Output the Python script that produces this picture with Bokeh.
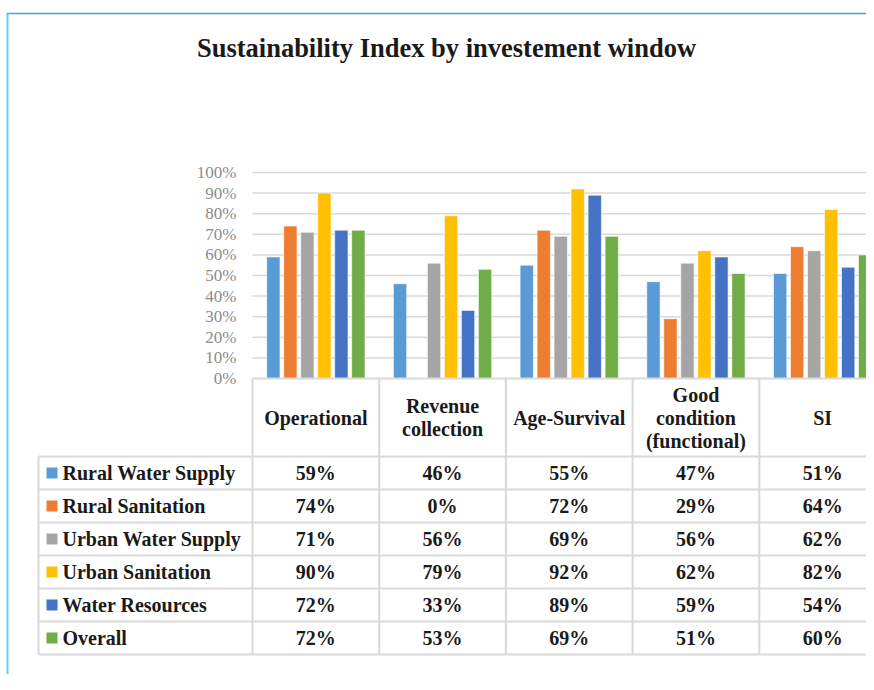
from bokeh.plotting import figure
from bokeh.models import Range1d
from bokeh.embed import file_html
from bokeh.resources import INLINE
from bokeh.core.properties import value

# ---------------- data ----------------
title_text = "Sustainability Index by investement window"
categories = ["Operational", "Revenue collection", "Age-Survival",
              "Good condition (functional)", "SI"]
header_lines = [["Operational"], ["Revenue", "collection"], ["Age-Survival"],
                ["Good", "condition", "(functional)"], ["SI"]]
series_names = ["Rural Water Supply", "Rural Sanitation", "Urban Water Supply",
                "Urban Sanitation", "Water Resources", "Overall"]
rural_water_supply = [59, 46, 55, 47, 51]
rural_sanitation = [74, 0, 72, 29, 64]
urban_water_supply = [71, 56, 69, 56, 62]
urban_sanitation = [90, 79, 92, 62, 82]
water_resources = [72, 33, 89, 59, 54]
overall = [72, 53, 69, 51, 60]
series_values = [rural_water_supply, rural_sanitation, urban_water_supply,
                 urban_sanitation, water_resources, overall]
colors = ["#5B9BD5", "#ED7D31", "#A5A5A5", "#FFC000", "#4472C4", "#70AD47"]
y_ticks = [0, 10, 20, 30, 40, 50, 60, 70, 80, 90, 100]

# ---------------- layout (picture pixels) ----------------
W, H = 866, 674
PX_L, PX_R, PX_T, PX_B = 0, W, 0, H
PLOT_L = 252.0
CAT_W = 126.7
Y0, Y100 = 378.0, 172.0
SCALE = Y0 - Y100
HEADER_B = 456.0
ROW_H = 33.0
TABLE_L = 38.0
FONT = "Liberation Serif"
GRID = "#d9d9d9"
TXT = "#1a1a1a"

x_range = Range1d((PX_L - PLOT_L) / CAT_W - 0.5, (PX_R - PLOT_L) / CAT_W - 0.5)
y_range = Range1d((Y0 - PX_B) / SCALE, (Y0 - PX_T) / SCALE)

p = figure(width=W, height=H, x_range=x_range, y_range=y_range,
           output_backend="svg", toolbar_location=None,
           x_axis_location=None, y_axis_location=None, min_border=0)
p.outline_line_color = None
p.xgrid.grid_line_color = None
p.ygrid.grid_line_color = None
p.background_fill_color = "white"
p.border_fill_color = "white"
p.extra_x_ranges = {"px": Range1d(PX_L, PX_R)}
p.extra_y_ranges = {"px": Range1d(PX_B, PX_T)}

n_cat = len(categories)
x_end = x_range.end

# outer chart border (light blue)
p.segment(x0=[6], y0=[13], x1=[PX_R], y1=[13], line_color="#3fa9dc",
          line_width=1.5, x_range_name="px", y_range_name="px")
p.segment(x0=[7], y0=[13], x1=[7], y1=[PX_B], line_color="#6cc8ef",
          line_width=2, x_range_name="px", y_range_name="px")

# title
p.text(x=[446], y=[47], text=[title_text], x_range_name="px", y_range_name="px",
       text_font=value(FONT), text_font_style="bold", text_font_size="26.5px",
       text_align="center", text_baseline="middle", text_color=TXT)

# gridlines
grid_vals = [t / 100 for t in y_ticks if t > 0]
p.segment(x0=[-0.5] * len(grid_vals), y0=grid_vals, x1=[x_end] * len(grid_vals),
          y1=grid_vals, line_color=GRID, line_width=1.5)

# y tick labels
p.text(x=[236] * len(y_ticks), y=[t / 100 for t in y_ticks],
       text=[f"{t}%" for t in y_ticks], x_range_name="px",
       text_font=value(FONT), text_font_size="17px", text_color="#8c8c8c",
       text_align="right", text_baseline="middle")

# bars
step = 17.0 / CAT_W
bw = 13.3 / CAT_W
for i, (vals, col) in enumerate(zip(series_values, colors)):
    xs = [c + (i - 2.5) * step for c in range(n_cat)]
    p.vbar(x=xs, top=[v / 100 for v in vals], bottom=0, width=bw,
           fill_color=col, line_color="white", line_width=0.6)

# ---------------- data table ----------------
n_rows = len(series_names)
table_b = HEADER_B + ROW_H * n_rows
p.segment(x0=[-0.5], y0=[0], x1=[x_end], y1=[0], line_color=GRID, line_width=2)
row_lines = [HEADER_B + ROW_H * r for r in range(n_rows + 1)]
p.segment(x0=[TABLE_L] * len(row_lines), y0=row_lines, x1=[PX_R] * len(row_lines),
          y1=row_lines, line_color=GRID, line_width=2,
          x_range_name="px", y_range_name="px")
bounds = [c - 0.5 for c in range(n_cat + 1)]
p.segment(x0=bounds, y0=[Y0] * len(bounds), x1=bounds, y1=[table_b] * len(bounds),
          line_color=GRID, line_width=2, y_range_name="px")
p.segment(x0=[TABLE_L], y0=[HEADER_B], x1=[TABLE_L], y1=[table_b],
          line_color=GRID, line_width=2, x_range_name="px", y_range_name="px")

# header text
hdr_mid = (Y0 + HEADER_B) / 2
line_sp = 23.0
for c, lines in enumerate(header_lines):
    n = len(lines)
    ys = [hdr_mid + (k - (n - 1) / 2) * line_sp for k in range(n)]
    p.text(x=[c] * n, y=ys, text=lines, y_range_name="px",
           text_font=value(FONT), text_font_style="bold", text_font_size="20px",
           text_align="center", text_baseline="middle", text_color=TXT)

# row labels with legend keys
row_mid = [HEADER_B + ROW_H * (r + 0.5) for r in range(n_rows)]
p.scatter(x=[51.5] * n_rows, y=row_mid, marker="square", size=11,
          fill_color=colors, line_color=None, x_range_name="px", y_range_name="px")
p.text(x=[62] * n_rows, y=row_mid, text=series_names,
       x_range_name="px", y_range_name="px",
       text_font=value(FONT), text_font_style="bold", text_font_size="20px",
       text_align="left", text_baseline="middle", text_color=TXT)

# cell values
for r, vals in enumerate(series_values):
    p.text(x=list(range(n_cat)), y=[row_mid[r]] * n_cat,
           text=[f"{v}%" for v in vals], y_range_name="px",
           text_font=value(FONT), text_font_style="bold", text_font_size="20px",
           text_align="center", text_baseline="middle", text_color=TXT)

open("out.html", "w").write(file_html(p, INLINE))
